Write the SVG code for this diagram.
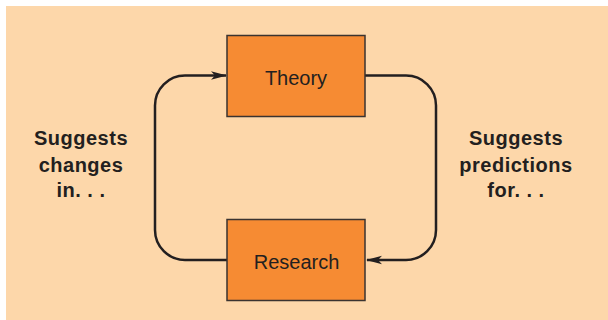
<svg xmlns="http://www.w3.org/2000/svg" width="608" height="320" viewBox="0 0 608 320">
<defs>
<style>
.box{fill:#F68B33;stroke:#3a3330;stroke-width:1.5}
.lbl{font-family:"Liberation Sans",Arial,sans-serif;font-size:20px;fill:#231F20;text-anchor:middle}
.side{font-family:"Liberation Sans",Arial,sans-serif;font-size:20px;font-weight:bold;fill:#231F20;text-anchor:middle;letter-spacing:0.5px}
.conn{fill:none;stroke:#231F20;stroke-width:2.5}
</style>
<marker id="arr" viewBox="0 0 16 10" refX="15" refY="5" markerWidth="16" markerHeight="10" markerUnits="userSpaceOnUse" orient="auto">
<path d="M0,0.8 L16,5 L0,9.2 L4,5 Z" fill="#231F20"/>
</marker>
</defs>
<rect x="0" y="0" width="608" height="320" fill="#ffffff"/>
<rect x="6" y="6" width="602" height="314" fill="#FDD7AA"/>
<g id="connectors">
<path class="conn" d="M365,75.5 H406 A30,30 0 0 1 436,105.5 V230 A30,30 0 0 1 406,260 H367" marker-end="url(#arr)"/>
<path class="conn" d="M227,260 H185 A30,30 0 0 1 155,230 V105.5 A30,30 0 0 1 185,75.5 H226" marker-end="url(#arr)"/>
</g>
<g id="theory">
<rect class="box" x="227" y="35.5" width="138" height="81"/>
<text class="lbl" x="296" y="85">Theory</text>
</g>
<g id="research">
<rect class="box" x="227" y="219.5" width="138" height="81"/>
<text class="lbl" x="296.5" y="269">Research</text>
</g>
<g id="label-left">
<text class="side" x="81" y="145">Suggests</text>
<text class="side" x="81" y="171.5">changes</text>
<text class="side" x="81" y="197">in. . .</text>
</g>
<g id="label-right">
<text class="side" x="516" y="145">Suggests</text>
<text class="side" x="516" y="171.5">predictions</text>
<text class="side" x="516" y="197">for. . .</text>
</g>
</svg>
